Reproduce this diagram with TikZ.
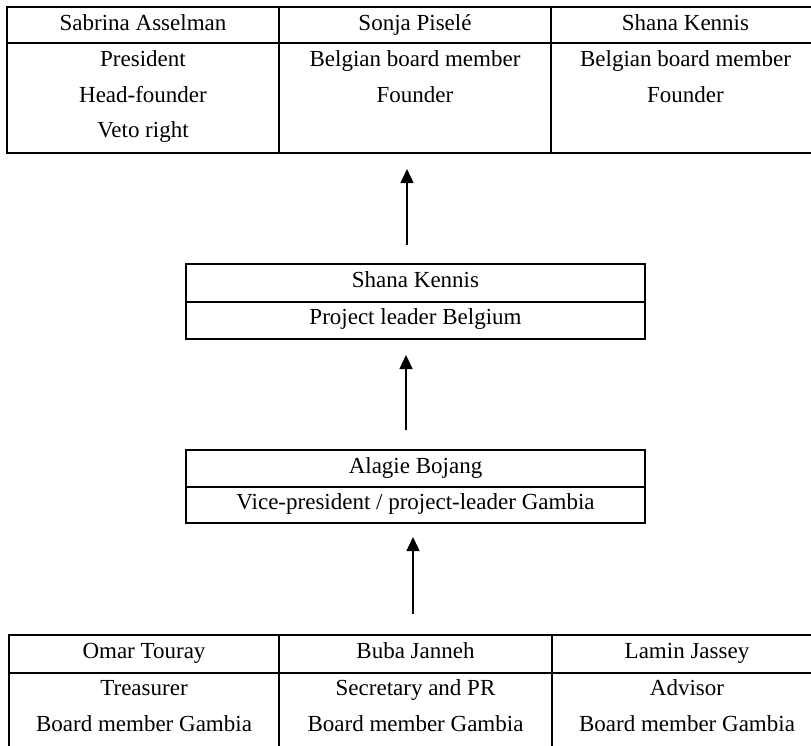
\documentclass[tikz,border=0pt]{standalone}
\usepackage{fontspec}
\setmainfont{Liberation Serif}
\usetikzlibrary{arrows.meta}
\begin{document}
\begin{tikzpicture}[x=1pt,y=-1pt,
  frame/.style={draw, line width=1.4pt, rectangle, inner sep=0pt, outer sep=0pt},
  txt/.style={anchor=base, inner sep=0pt, font=\fontsize{23}{28}\selectfont},
  up/.style={line width=1.4pt, -{Triangle[length=14pt,width=13pt]}}]
\useasboundingbox (0,0) rectangle (811,745);
\clip (0,0) rectangle (811,745);

% ---------- top table ----------
\node[frame, minimum width=272pt, minimum height=36pt]  (sabH) at (143,25) {};
\node[frame, minimum width=272pt, minimum height=110pt] (sabB) at (143,98) {};
\node[frame, minimum width=272pt, minimum height=36pt]  (sonH) at (415,25) {};
\node[frame, minimum width=272pt, minimum height=110pt] (sonB) at (415,98) {};
\node[frame, minimum width=269pt, minimum height=36pt]  (shaH) at (685.5,25) {};
\node[frame, minimum width=269pt, minimum height=110pt] (shaB) at (685.5,98) {};

\node[txt] (t11) at (143,30)  {Sabrina Asselman};
\node[txt] (t12) at (143,66)  {President};
\node[txt] (t13) at (143,102) {Head-founder};
\node[txt] (t14) at (143,137) {Veto right};
\node[txt] (t21) at (415,30)  {Sonja Piselé};
\node[txt] (t22) at (415,66)  {Belgian board member};
\node[txt] (t23) at (415,102) {Founder};
\node[txt] (t31) at (685.5,30)  {Shana Kennis};
\node[txt] (t32) at (685.5,66)  {Belgian board member};
\node[txt] (t33) at (685.5,102) {Founder};

% ---------- middle box 1 ----------
\node[frame, minimum width=459pt, minimum height=38pt] (plH) at (415.5,283) {};
\node[frame, minimum width=459pt, minimum height=37pt] (plB) at (415.5,320.5) {};
\node[txt] (m11) at (415.5,287) {Shana Kennis};
\node[txt] (m12) at (415.5,324) {Project leader Belgium};

% ---------- middle box 2 ----------
\node[frame, minimum width=459pt, minimum height=37pt] (vpH) at (415.5,468.5) {};
\node[frame, minimum width=459pt, minimum height=36pt] (vpB) at (415.5,505) {};
\node[txt] (m21) at (415.5,473) {Alagie Bojang};
\node[txt] (m22) at (415.5,509) {Vice-president / project-leader Gambia};

% ---------- bottom table ----------
\node[frame, minimum width=270pt, minimum height=38pt] (omH) at (144,654) {};
\node[frame, minimum width=270pt, minimum height=87pt] (omB) at (144,716.5) {};
\node[frame, minimum width=273pt, minimum height=38pt] (buH) at (415.5,654) {};
\node[frame, minimum width=273pt, minimum height=87pt] (buB) at (415.5,716.5) {};
\node[frame, minimum width=270pt, minimum height=38pt] (laH) at (687,654) {};
\node[frame, minimum width=270pt, minimum height=87pt] (laB) at (687,716.5) {};

\node[txt] (b11) at (144,658) {Omar Touray};
\node[txt] (b12) at (144,695) {Treasurer};
\node[txt] (b13) at (144,731) {Board member Gambia};
\node[txt] (b21) at (415.5,658) {Buba Janneh};
\node[txt] (b22) at (415.5,695) {Secretary and PR};
\node[txt] (b23) at (415.5,731) {Board member Gambia};
\node[txt] (b31) at (687,658) {Lamin Jassey};
\node[txt] (b32) at (687,695) {Advisor};
\node[txt] (b33) at (687,731) {Board member Gambia};

% ---------- arrows ----------
\coordinate (a1s) at (407,245);
\coordinate (a1e) at (407,169);
\coordinate (a2s) at (406,430);
\coordinate (a2e) at (406,355);
\coordinate (a3s) at (413,614);
\coordinate (a3e) at (413,537);
\draw[up] (a1s) -- (a1e);
\draw[up] (a2s) -- (a2e);
\draw[up] (a3s) -- (a3e);
\end{tikzpicture}
\end{document}
